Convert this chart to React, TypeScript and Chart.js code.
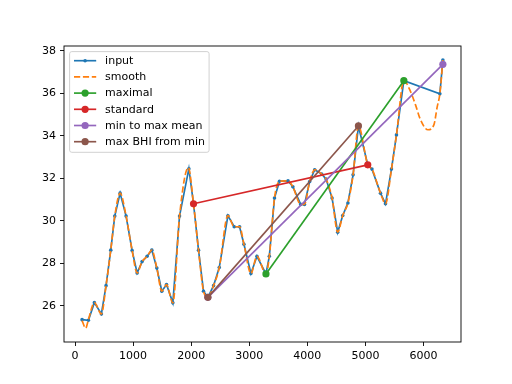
import React, { useEffect, useRef } from "react";
import { Chart, registerables } from "chart.js";

Chart.register(...registerables);

// ---- data ----
const inputX = [121, 230, 333, 454, 534, 615, 684, 776, 879, 983, 1069, 1155, 1241, 1322, 1408, 1494, 1575, 1684, 1799, 1960, 2040, 2126, 2212, 2287, 2385, 2483, 2632, 2741, 2833, 2908, 3028, 3132, 3287, 3345, 3434, 3520, 3667, 3750, 3885, 3950, 4040, 4126, 4247, 4322, 4425, 4522, 4609, 4698, 4787, 4879, 5040, 5112, 5259, 5345, 5448, 5534, 5661, 6281, 6333];
const inputY = [25.35, 25.32, 26.15, 25.62, 26.95, 28.62, 30.22, 31.3, 30.22, 28.6, 27.55, 28.08, 28.33, 28.62, 27.78, 26.69, 27.0, 26.14, 30.22, 32.45, 30.8, 28.62, 26.69, 26.4, 26.95, 27.8, 30.24, 29.72, 29.72, 28.9, 27.52, 28.33, 27.5, 28.33, 31.07, 31.86, 31.88, 31.6, 30.77, 30.77, 31.85, 32.4, 32.2, 31.96, 31.07, 29.46, 30.25, 30.84, 32.16, 34.46, 32.63, 32.43, 31.3, 30.8, 32.43, 34.04, 36.59, 35.97, 37.56];

const smoothX = [121, 184, 230, 333, 454, 534, 615, 684, 776, 879, 983, 1069, 1155, 1241, 1322, 1408, 1494, 1575, 1684, 1799, 1950, 2040, 2126, 2212, 2287, 2385, 2483, 2632, 2741, 2833, 2908, 3028, 3132, 3287, 3345, 3434, 3520, 3667, 3750, 3885, 3950, 4040, 4126, 4247, 4322, 4425, 4522, 4609, 4698, 4787, 4879, 5040, 5112, 5259, 5345, 5448, 5534, 5661, 5764, 5862, 5948, 6075, 6178, 6236, 6281, 6333];
const smoothY = [25.3, 24.95, 25.35, 26.15, 25.62, 26.95, 28.62, 30.22, 31.3, 30.22, 28.6, 27.55, 28.08, 28.33, 28.62, 27.78, 26.69, 27.0, 26.14, 30.22, 32.5, 30.8, 28.62, 26.69, 26.4, 26.95, 27.8, 30.24, 29.72, 29.72, 28.9, 27.52, 28.33, 27.5, 28.33, 31.07, 31.86, 31.88, 31.6, 30.77, 30.77, 31.85, 32.4, 32.2, 31.96, 31.07, 29.46, 30.25, 30.84, 32.16, 34.46, 32.63, 32.43, 31.3, 30.8, 32.43, 34.04, 36.59, 36.16, 35.45, 34.75, 34.28, 34.51, 35.37, 35.97, 37.56];

const maximalX = [3287, 5661];
const maximalY = [27.5, 36.59];
const standardX = [2040, 5040];
const standardY = [30.8, 32.63];
const meanX = [2287, 6333];
const meanY = [26.4, 37.36];
const bhiX = [2287, 4879];
const bhiY = [26.4, 34.46];

const xTicks = [0, 1000, 2000, 3000, 4000, 5000, 6000];
const yTicks = [26, 28, 30, 32, 34, 36, 38];
const legendLabels = ["input", "smooth", "maximal", "standard", "min to max mean", "max BHI from min"];

const BLUE = "#1f77b4";
const ORANGE = "#ff7f0e";
const GREEN = "#2ca02c";
const RED = "#d62728";
const PURPLE = "#9467bd";
const BROWN = "#8c564b";

const FONT = "DejaVu Sans";

function pts(xs: number[], ys: number[]) {
  return xs.map((x, i) => ({ x, y: ys[i] }));
}

const legendStyles = [
  { color: BLUE, dash: [] as number[], r: 1.8 },
  { color: ORANGE, dash: [6.2, 2.7], r: 0 },
  { color: GREEN, dash: [], r: 3.6 },
  { color: RED, dash: [], r: 3.6 },
  { color: PURPLE, dash: [], r: 3.6 },
  { color: BROWN, dash: [], r: 3.6 },
];

const framePlugin = {
  id: "frameLegend",
  afterDraw(chart: any) {
    const { ctx, chartArea: a } = chart;
    ctx.save();
    ctx.strokeStyle = "#000";
    ctx.lineWidth = 0.9;
    ctx.setLineDash([]);
    ctx.strokeRect(a.left, a.top, a.right - a.left, a.bottom - a.top);

    // legend
    const bx = a.left + 5.6;
    const by = a.top + 5.6;
    const bw = 139.5;
    const bh = 100.7;
    ctx.beginPath();
    (ctx as any).roundRect(bx, by, bw, bh, 2.2);
    ctx.fillStyle = "rgba(255,255,255,0.8)";
    ctx.fill();
    ctx.strokeStyle = "#cccccc";
    ctx.lineWidth = 0.9;
    ctx.stroke();

    const hx0 = bx + 4.4;
    const hx1 = hx0 + 22.2;
    const tx = hx1 + 8.9;
    ctx.font = `11px "${FONT}"`;
    ctx.textBaseline = "middle";
    ctx.textAlign = "left";
    legendLabels.forEach((label, i) => {
      const y = by + 9.1 + i * 16.2;
      const s = legendStyles[i];
      ctx.strokeStyle = s.color;
      ctx.lineWidth = 1.67;
      ctx.setLineDash(s.dash);
      ctx.beginPath();
      ctx.moveTo(hx0, y);
      ctx.lineTo(hx1, y);
      ctx.stroke();
      ctx.setLineDash([]);
      if (s.r > 0) {
        ctx.beginPath();
        ctx.arc((hx0 + hx1) / 2, y, s.r, 0, Math.PI * 2);
        ctx.fillStyle = s.color;
        ctx.fill();
      }
      ctx.fillStyle = "#000";
      ctx.fillText(label, tx, y + 0.5);
    });
    ctx.restore();
  },
};

export default function App() {
  const ref = useRef<HTMLCanvasElement | null>(null);

  useEffect(() => {
    if (!ref.current) return;
    const line = (data: any, color: string, order: number, extra: any = {}) => ({
      data,
      borderColor: color,
      backgroundColor: color,
      borderWidth: 1.67,
      showLine: true,
      pointRadius: 3.6,
      pointBorderWidth: 0,
      pointHoverRadius: 3.6,
      order,
      ...extra,
    });
    const chart = new Chart(ref.current, {
      type: "scatter",
      data: {
        datasets: [
          line(pts(inputX, inputY), BLUE, 6, { pointRadius: 1.8, pointHoverRadius: 1.8 }),
          line(pts(smoothX, smoothY), ORANGE, 5, {
            pointRadius: 0,
            borderDash: [6.2, 2.7],
            cubicInterpolationMode: "monotone",
          }),
          line(pts(maximalX, maximalY), GREEN, 4),
          line(pts(standardX, standardY), RED, 3),
          line(pts(meanX, meanY), PURPLE, 2),
          line(pts(bhiX, bhiY), BROWN, 1),
        ],
      },
      options: {
        animation: false,
        responsive: false,
        devicePixelRatio: 1,
        events: [],
        layout: { padding: { left: 0, top: 46, right: 51, bottom: 0 } },
        plugins: { legend: { display: false }, tooltip: { enabled: false } },
        scales: {
          x: {
            type: "linear",
            min: -190,
            max: 6645,
            afterFit: (s: any) => {
              s.height = 42;
            },
            afterBuildTicks: (s: any) => {
              s.ticks = xTicks.map((v) => ({ value: v }));
            },
            border: { display: false },
            grid: {
              display: true,
              drawOnChartArea: false,
              drawTicks: true,
              tickLength: 4,
              color: "#000",
              lineWidth: 0.9,
            },
            ticks: {
              font: { family: FONT, size: 11 },
              color: "#000",
              padding: 4,
              maxRotation: 0,
              autoSkip: false,
              callback: (v: any) => String(v),
            },
          },
          y: {
            type: "linear",
            min: 24.3,
            max: 38.22,
            afterFit: (s: any) => {
              s.width = 64;
            },
            afterBuildTicks: (s: any) => {
              s.ticks = yTicks.map((v) => ({ value: v }));
            },
            border: { display: false },
            grid: {
              display: true,
              drawOnChartArea: false,
              drawTicks: true,
              tickLength: 4,
              color: "#000",
              lineWidth: 0.9,
            },
            ticks: {
              font: { family: FONT, size: 11 },
              color: "#000",
              padding: 4,
              autoSkip: false,
              callback: (v: any) => String(v),
            },
          },
        },
      },
      plugins: [framePlugin],
    } as any);
    return () => chart.destroy();
  }, []);

  return (
    <div style={{ position: "absolute", left: 0, top: 0, width: 512, height: 384, background: "#fff" }}>
      <canvas ref={ref} width={512} height={384} style={{ display: "block", width: 512, height: 384 }} />
    </div>
  );
}
